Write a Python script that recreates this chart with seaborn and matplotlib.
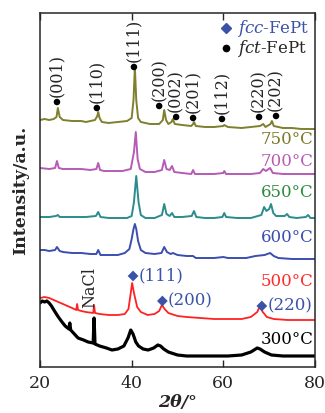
import matplotlib
matplotlib.use("Agg")
import matplotlib.pyplot as plt
import seaborn as sns

sns.set_style("ticks")
plt.rcParams['font.family'] = ['DejaVu Serif']
plt.rcParams['mathtext.fontset'] = 'dejavuserif'

# XRD 데이터 (2θ, 오프셋 포함 강도)
x750 = [20, 21, 22, 23, 23.6, 23.9, 24.3, 25, 27, 29, 30, 32, 32.5, 32.7, 33.0, 33.5, 35, 37, 39, 40, 40.4, 40.7, 41.0, 41.4, 42, 44, 46, 46.8, 47.1, 47.5, 48, 48.7, 49.0, 49.4, 51, 53, 53.4, 53.6, 54, 56, 58, 60, 60.2, 61, 64, 66, 68, 68.7, 69.2, 70.3, 70.6, 71, 73, 75, 77, 80]
y750 = [247, 248, 247, 248, 250, 259, 250, 247, 246, 246, 245, 247, 251, 255, 249, 245, 244, 245, 246, 249, 267, 300, 267, 249, 245, 243, 243, 247, 257, 247, 243, 245, 248, 243, 242, 241, 243, 245, 241, 240, 240, 241, 242, 240, 239, 240, 241, 243, 240, 243, 246, 241, 239, 239, 238, 238]

x700 = [20, 22, 23.3, 23.7, 24.1, 25, 27, 29, 31, 32.3, 32.7, 33.1, 34, 36, 38, 39.8, 40.5, 40.9, 41.3, 41.8, 43, 45, 46.6, 47.1, 47.6, 48.3, 48.8, 49.3, 51, 53, 53.4, 53.8, 56, 58, 60, 60.2, 60.6, 63, 66, 68, 68.7, 69.3, 70.2, 70.8, 73, 76, 80]
y700 = [199, 198, 199, 206, 199, 198, 198, 198, 197, 198, 204, 197, 196, 196, 196, 198, 215, 235, 208, 198, 195, 195, 197, 207, 198, 197, 201, 195, 194, 193, 197, 193, 193, 193, 194, 196, 193, 193, 193, 194, 198, 196, 199, 194, 193, 193, 193]

x650 = [20, 22, 23.5, 23.9, 24.3, 26, 28, 30, 32.2, 32.7, 33.2, 35, 37, 39, 40.0, 40.5, 41.0, 41.5, 42, 43, 45, 46.6, 47.1, 47.6, 48.3, 48.8, 49.3, 51, 53.1, 53.6, 54.1, 56, 58, 59.8, 60.2, 60.6, 63, 66, 68.3, 68.9, 69.4, 70.0, 70.4, 70.9, 71.5, 73.4, 73.9, 74.4, 76, 78, 78.5, 79, 80]
y650 = [150, 150, 151, 152, 150, 150, 150, 150, 151, 155, 150, 149, 149, 149, 151, 165, 191, 165, 152, 149, 149, 152, 163, 153, 151, 154, 150, 150, 151, 156, 150, 149, 149, 150, 154, 150, 149, 149, 152, 160, 156, 158, 163, 154, 151, 151, 153, 150, 149, 150, 152, 149, 149]

x600 = [20, 21, 22, 23.3, 23.7, 24.3, 25, 27, 29, 31, 32.3, 32.7, 33.2, 35, 37, 38.5, 39.5, 40.0, 40.4, 40.7, 41.0, 41.4, 42, 43, 45, 46.5, 47.1, 47.7, 48.5, 49.0, 50, 52, 53.4, 54, 56, 58, 60, 61, 63, 65, 67, 69, 70.2, 71, 72, 75, 80]
y600 = [117, 117, 116, 117, 120, 116, 115, 114, 114, 113, 113, 117, 112, 112, 112, 114, 118, 128, 138, 143, 138, 126, 117, 114, 113, 114, 120, 115, 113, 114, 112, 111, 111, 109, 109, 109, 110, 109, 109, 109, 111, 112, 114, 111, 109, 108, 108]

x500 = [20, 21, 22, 23, 24, 25, 26, 27, 27.9, 28.1, 28.3, 29, 30, 31.6, 31.8, 32.0, 33, 35, 37, 38.5, 39.3, 39.8, 40.1, 40.5, 41.2, 42, 43.5, 45, 46.0, 46.6, 47.2, 48, 50, 52, 55, 58, 61, 64, 66, 67.4, 68, 68.6, 69.5, 71, 74, 77, 80]
y500 = [69, 70, 69, 67, 65, 63, 61, 59, 57, 63, 57, 56, 55, 54, 62, 54, 53, 52, 52, 53, 58, 74, 84, 74, 60, 55, 52, 53, 56, 62, 58, 54, 51, 50, 49, 48, 48, 48, 50, 55, 61, 55, 50, 48, 47, 47, 47]

x300 = [20, 20.5, 21, 21.5, 22, 22.5, 23.3, 24, 24.8, 25.5, 26.3, 26.5, 26.7, 27.5, 28.3, 29.5, 30.5, 31.6, 31.8, 32.0, 33, 34.5, 35.7, 37, 38.3, 39.2, 39.8, 40.3, 40.9, 41.5, 42.5, 43.6, 44.8, 45.7, 46.3, 47, 48, 50, 52, 55, 58, 61, 64, 66, 67.4, 68, 69, 70.5, 73, 76, 80]
y300 = [64, 66, 65, 66, 64, 61, 55, 50, 45, 41, 38, 44, 37, 33, 29, 27, 25, 24, 49, 23, 21, 19, 17, 18, 21, 29, 37, 33, 25, 21, 18, 17, 19, 22, 21, 18, 15, 12, 11, 11, 11, 11, 12, 15, 19, 18, 15, 12, 11, 11, 11]

# 피크 표시
fct_x = [23.7, 32.4, 40.5, 46.0, 49.7, 53.4, 59.7, 67.8, 71.5]
fct_y = [265, 259, 300, 261, 250, 249, 248, 250, 251]
fct_labels = ['(001)', '(110)', '(111)', '(200)', '(002)', '(201)', '(112)', '(220)', '(202)']

fcc_x = [40.3, 46.7, 68.4]
fcc_y = [91, 66, 61]
fcc_labels = ['(111)', '(200)', '(220)']

temps = ['750°C', '700°C', '650°C', '600°C', '500°C', '300°C']
temp_y = [227, 205, 174, 129, 86, 27]
xticks = [20, 40, 60, 80]

blue = '#3a52a8'
curves = [
    (x750, y750, '#7f7f2e', 1.4),
    (x700, y700, '#b65bb6', 1.4),
    (x650, y650, '#2a8c8c', 1.4),
    (x600, y600, '#3b4eb0', 1.4),
    (x500, y500, '#ff2222', 1.3),
    (x300, y300, 'black', 2.3),
]
label_colors = ['#7a7a2a', '#b65bb6', '#2e8b3e', '#3b4eb0', '#ff2a2a', 'black']

fig = plt.figure(figsize=(3.25, 4.13), dpi=100)
ax = fig.add_axes([40/325, 1 - 367/413, 275/325, 354/413])

for xs, ys, c, lw in curves:
    sns.lineplot(x=xs, y=ys, ax=ax, color=c, linewidth=lw, sort=False, estimator=None)

# 온도 라벨
for t, ty, c in zip(temps, temp_y, label_colors):
    ax.text(79.6, ty, t, ha='right', va='center', color=c, fontsize=12)

# fct 피크
sns.scatterplot(x=fct_x, y=fct_y, ax=ax, color='black', s=22, marker='o', edgecolor='none', zorder=5)
for px, py, lab in zip(fct_x, fct_y, fct_labels):
    ax.annotate(lab, (px, py), xytext=(0, 3.5), textcoords='offset points',
                rotation=90, ha='center', va='bottom', fontsize=11.5)

# fcc 피크
sns.scatterplot(x=fcc_x, y=fcc_y, ax=ax, color=blue, s=30, marker='D', edgecolor='none', zorder=5)
for px, py, lab in zip(fcc_x, fcc_y, fcc_labels):
    ax.annotate(lab, (px, py), xytext=(4, 0), textcoords='offset points',
                ha='left', va='center', fontsize=12, color=blue)

ax.text(30.9, 80, 'NaCl', rotation=90, ha='center', va='center', fontsize=11.5)

# 범례
ax.plot([0.677], [0.957], marker='D', color=blue, markersize=5, transform=ax.transAxes, clip_on=False)
ax.text(0.715, 0.957, r'$\it{fcc}$-FePt', transform=ax.transAxes, ha='left', va='center', fontsize=12, color=blue)
ax.plot([0.677], [0.9], marker='o', color='black', markersize=4.5, transform=ax.transAxes, clip_on=False)
ax.text(0.715, 0.9, r'$\it{fct}$-FePt', transform=ax.transAxes, ha='left', va='center', fontsize=12)

ax.set_xlim(20, 80)
ax.set_ylim(0, 354)
ax.set_xticks(xticks)
ax.set_yticks([])
ax.tick_params(axis='x', direction='in', top=True, length=5, width=1, labelsize=12.5, pad=6)
for s in ax.spines.values():
    s.set_linewidth(1.1)
    s.set_visible(True)

ax.set_xlabel('2θ/°', fontsize=12.5, fontweight='bold', fontstyle='italic', labelpad=1)
ax.set_ylabel('Intensity/a.u.', fontsize=12.5, fontweight='bold', labelpad=8)

fig.savefig('out.png', dpi=100)
